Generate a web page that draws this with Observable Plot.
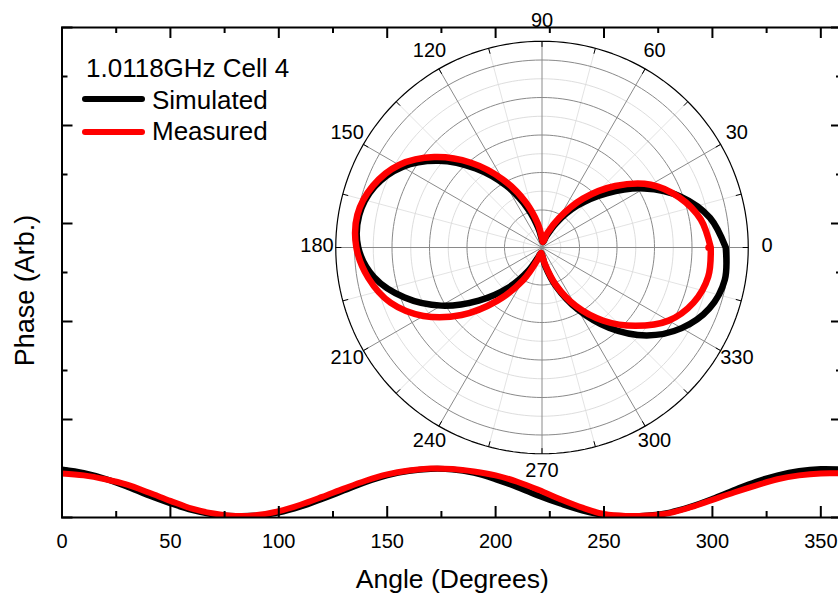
<!DOCTYPE html>
<html><head><meta charset="utf-8">
<script src="https://cdn.jsdelivr.net/npm/d3@7"></script>
<script src="https://cdn.jsdelivr.net/npm/@observablehq/plot@0.6"></script>
<style>
html,body{margin:0;padding:0;overflow:hidden;background:#fff;width:838px;height:594px;}
#wrap{position:relative;width:838px;height:594px;overflow:hidden;font-family:"Liberation Sans",Arial,sans-serif;}
#wrap svg{position:absolute;}
.leg{position:absolute;font-size:26px;line-height:26px;white-space:nowrap;color:#000;}
.sw{position:absolute;height:6px;border-radius:3px;}
</style></head><body><div id="wrap"></div>
<script>
// ---- data ----
const angles = [0,10,20,30,40,50,60,70,80,90,100,110,120,130,140,150,160,170,180,190,200,210,220,230,240,250,260,270,280,290,300,310,320,330,340,350,360];
const simulated = [0.98,0.91,0.79,0.63,0.45,0.29,0.15,0.06,0.03,0.04,0.10,0.22,0.38,0.55,0.72,0.86,0.95,0.99,0.98,0.91,0.78,0.62,0.44,0.28,0.14,0.05,0.03,0.04,0.10,0.22,0.38,0.56,0.73,0.86,0.95,0.99,0.98];
const measured  = [0.90,0.86,0.78,0.67,0.51,0.34,0.18,0.08,0.03,0.05,0.13,0.26,0.42,0.59,0.75,0.88,0.96,1.00,0.99,0.94,0.86,0.73,0.56,0.37,0.20,0.07,0.03,0.04,0.09,0.21,0.36,0.51,0.65,0.78,0.86,0.90,0.90];
const seriesNames = ["Simulated","Measured"];
const seriesColors = ["#000000","#ff0000"];
const legendTitle = "1.0118GHz Cell 4";
const xLabel = "Angle (Degrees)";
const yLabel = "Phase (Arb.)";
const xMajorTicks = [0,50,100,150,200,250,300,350];
const xMinorTicks = [25,75,125,175,225,275,325];
const yMajorTicks = [0,2,4,6,8,10];
const yMinorTicks = [1,3,5,7,9];
const polarAngleLabels = [0,30,60,90,120,150,180,210,240,270,300,330];
const polarSpokes = [0,15,30,45,60,75,90,105,120,135,150,165,180,195,210,225,240,255,270,285,300,315,330,345];
const polarMajorRings = [0.2,0.4,0.6,0.8,1.0];
const polarMinorRings = [0.1,0.3,0.5,0.7,0.9];
const polarOuter = 1.1;

const FONT = '"Liberation Sans", Arial, sans-serif';
const wrap = document.getElementById("wrap");

// ---- main cartesian plot ----
const W = 846, H = 594, ML = 61.5, MR = 4, MT = 27, MB = 77;
const PW = W - ML - MR, PH = H - MT - MB;
const rows = angles.map((a, i) => ({angle: a, sim: simulated[i], meas: measured[i]}));
const id = d => d;

const main = Plot.plot({
  width: W, height: H,
  marginLeft: ML, marginRight: MR, marginTop: MT, marginBottom: MB,
  style: {fontFamily: FONT, background: "transparent", maxWidth: "none", overflow: "visible", color: "#000"},
  x: {domain: [0, 360], axis: null},
  y: {domain: [0, 10], axis: null},
  marks: [
    Plot.line(rows, {x: "angle", y: "sim", stroke: seriesColors[0], strokeWidth: 6, curve: "catmull-rom", clip: true}),
    Plot.line(rows, {x: "angle", y: "meas", stroke: seriesColors[1], strokeWidth: 6, curve: "catmull-rom", clip: true}),
    Plot.frame({stroke: "#000", strokeWidth: 2}),
    Plot.tickX(xMajorTicks, {x: id, stroke: "#000", strokeWidth: 2, insetTop: PH - 11}),
    Plot.tickX(xMinorTicks, {x: id, stroke: "#000", strokeWidth: 2, insetTop: PH - 6}),
    Plot.tickX(xMajorTicks, {x: id, stroke: "#000", strokeWidth: 2, insetBottom: PH - 11}),
    Plot.tickX(xMinorTicks, {x: id, stroke: "#000", strokeWidth: 2, insetBottom: PH - 6}),
    Plot.tickY(yMajorTicks, {y: id, stroke: "#000", strokeWidth: 2, insetRight: PW - 11}),
    Plot.tickY(yMinorTicks, {y: id, stroke: "#000", strokeWidth: 2, insetRight: PW - 6}),
    Plot.tickY(yMajorTicks, {y: id, stroke: "#000", strokeWidth: 2, insetLeft: PW - 11}),
    Plot.tickY(yMinorTicks, {y: id, stroke: "#000", strokeWidth: 2, insetLeft: PW - 6}),
    Plot.axisX(xMajorTicks, {tickSize: 0, tickPadding: 16, fontSize: 20, label: null, fill: "#000"}),
    Plot.text([xLabel], {text: id, frameAnchor: "bottom", textAnchor: "middle", dy: 70, fontSize: 26.5, fill: "#000"}),
    Plot.text([yLabel], {text: id, frameAnchor: "left", textAnchor: "middle", rotate: -90, dx: -37, dy: 18, fontSize: 27, fill: "#000"})
  ]
});
main.style.left = "0px"; main.style.top = "0px";
wrap.appendChild(main);

// ---- polar inset ----
const UNIT = 187.5;
const PS = 2 * polarOuter * UNIT;
const pml = 45.25, pmt = 40.75, pmr = 45, pmb = 45;
const rad = a => a * Math.PI / 180;
const ring = r => d3.range(0, 361, 2).map(a => ({r, x: r * Math.cos(rad(a)), y: r * Math.sin(rad(a))}));
const majorRingPts = polarMajorRings.flatMap(ring);
const minorRingPts = polarMinorRings.flatMap(ring);
const outerRingPts = ring(polarOuter);
const simPolar = angles.map((a, i) => ({x: simulated[i] * Math.cos(rad(a)), y: simulated[i] * Math.sin(rad(a))}));
const measPolar = angles.map((a, i) => ({x: measured[i] * Math.cos(rad(a)), y: measured[i] * Math.sin(rad(a))}));
const majorSpokes = polarSpokes.filter(a => a % 30 === 0);
const minorSpokes = polarSpokes.filter(a => a % 30 !== 0);

const polar = Plot.plot({
  width: PS + pml + pmr, height: PS + pmt + pmb,
  marginLeft: pml, marginRight: pmr, marginTop: pmt, marginBottom: pmb,
  style: {fontFamily: FONT, background: "transparent", maxWidth: "none", overflow: "visible", color: "#000"},
  x: {domain: [-polarOuter, polarOuter], axis: null},
  y: {domain: [-polarOuter, polarOuter], axis: null},
  marks: [
    Plot.line(minorRingPts, {x: "x", y: "y", z: "r", stroke: "#d4d4d4", strokeWidth: 0.8}),
    Plot.link(minorSpokes, {x1: 0, y1: 0, x2: a => polarOuter * Math.cos(rad(a)), y2: a => polarOuter * Math.sin(rad(a)), stroke: "#dcdcdc", strokeWidth: 0.8}),
    Plot.line(majorRingPts, {x: "x", y: "y", z: "r", stroke: "#8a8a8a", strokeWidth: 1}),
    Plot.link(majorSpokes, {x1: 0, y1: 0, x2: a => polarOuter * Math.cos(rad(a)), y2: a => polarOuter * Math.sin(rad(a)), stroke: "#8a8a8a", strokeWidth: 1}),
    Plot.line(outerRingPts, {x: "x", y: "y", stroke: "#000", strokeWidth: 1.2}),
    Plot.link(polarSpokes, {x1: a => polarOuter * Math.cos(rad(a)), y1: a => polarOuter * Math.sin(rad(a)),
      x2: a => (polarOuter - 0.03) * Math.cos(rad(a)), y2: a => (polarOuter - 0.03) * Math.sin(rad(a)), stroke: "#000", strokeWidth: 1}),
    Plot.line(simPolar, {x: "x", y: "y", stroke: seriesColors[0], strokeWidth: 6.5, curve: "catmull-rom"}),
    Plot.line(measPolar, {x: "x", y: "y", stroke: seriesColors[1], strokeWidth: 6.5, curve: "catmull-rom"}),
    Plot.dot([measPolar[0]], {x: "x", y: "y", r: 3.5, fill: seriesColors[1], dx: -2}),
    Plot.text(polarAngleLabels, {x: a => 1.2 * Math.cos(rad(a)), y: a => 1.2 * Math.sin(rad(a)), text: a => String(a), fontSize: 20, fill: "#000", dy: -2})
  ]
});
polar.style.left = "290px"; polar.style.top = "0px";
wrap.appendChild(polar);

// ---- legend ----
function addDiv(cls, css, text) {
  const d = document.createElement("div");
  d.className = cls;
  Object.assign(d.style, css);
  if (text) d.textContent = text;
  wrap.appendChild(d);
}
addDiv("leg", {left: "86px", top: "55px"}, legendTitle);
addDiv("sw", {left: "82px", top: "96px", width: "63px", background: seriesColors[0]});
addDiv("leg", {left: "152px", top: "87px"}, seriesNames[0]);
addDiv("sw", {left: "82px", top: "129px", width: "63px", background: seriesColors[1]});
addDiv("leg", {left: "152px", top: "118px"}, seriesNames[1]);
</script></body></html>
